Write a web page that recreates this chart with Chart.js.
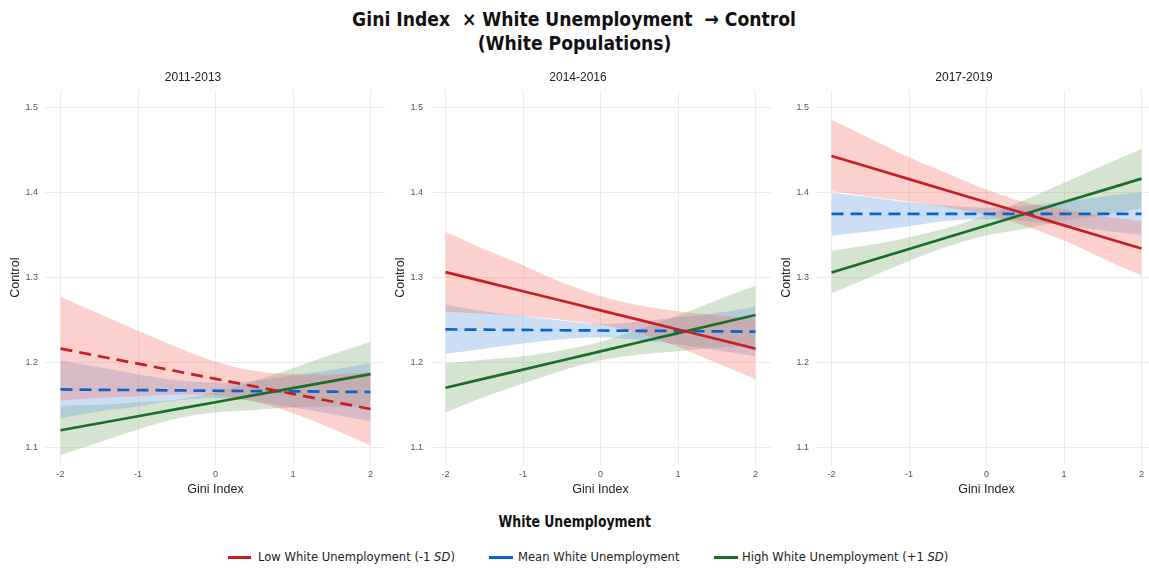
<!DOCTYPE html>
<html>
<head>
<meta charset="utf-8">
<script src="https://cdn.jsdelivr.net/npm/chart.js@4.4.1/dist/chart.umd.min.js"></script>
<style>
  html, body { margin: 0; padding: 0; background: #fff; overflow: hidden; }
  body { width: 1149px; height: 569px; position: relative; font-family: "DejaVu Sans", sans-serif; }
  .title {
    position: absolute; left: 0; top: 7px; width: 1149px; text-align: center;
    font-weight: bold; font-size: 20px; line-height: 24px; color: #111;
  }
  .title span { display: inline-block; transform: scaleX(0.86); }
  .panel { position: absolute; top: 60px; width: 386px; height: 445px; }
  .legend-title {
    position: absolute; left: 0; top: 512px; width: 1149px; text-align: center;
    font-weight: bold; font-size: 16px; color: #111;
  }
  .legend-title span { display: inline-block; transform: scaleX(0.78); }
  .swatch { position: absolute; top: 556px; height: 3px; }
  .label {
    position: absolute; top: 549px; font-size: 13px; color: #222; white-space: nowrap;
    transform: scaleX(0.89); transform-origin: left center;
  }
</style>
</head>
<body>
<div class="title"><span>Gini Index&nbsp; × White Unemployment&nbsp; → Control</span><br><span>(White Populations)</span></div>

<div class="panel" style="left:0px"><canvas id="p1"></canvas></div>
<div class="panel" style="left:385px"><canvas id="p2"></canvas></div>
<div class="panel" style="left:771px"><canvas id="p3"></canvas></div>

<div class="legend-title"><span>White Unemployment</span></div>
<div class="swatch" style="left:228px; width:23px; background:#c81e24"></div>
<div class="label" style="left:258px">Low White Unemployment (-1 <i>SD</i>)</div>
<div class="swatch" style="left:489px; width:24px; background:#0a64c8"></div>
<div class="label" style="left:518px">Mean White Unemployment</div>
<div class="swatch" style="left:714px; width:24px; background:#1a6e2a"></div>
<div class="label" style="left:742px">High White Unemployment (+1 <i>SD</i>)</div>

<script>
// Gini Index (standardised) at which predictions were evaluated
const gini = [-2, -1.5, -1, -0.5, 0, 0.5, 1, 1.5, 2];
const periods = ['2011-2013', '2014-2016', '2017-2019'];
const xTicks = [-2, -1, 0, 1, 2];
const yTicks = [1.1, 1.2, 1.3, 1.4, 1.5];

// 2011-2013
const low1 = [1.2160, 1.2071, 1.1983, 1.1894, 1.1805, 1.1716, 1.1628, 1.1539, 1.1450];
const low1Hi = [1.277, 1.257, 1.237, 1.218, 1.201, 1.190, 1.186, 1.186, 1.188];
const low1Lo = [1.155, 1.158, 1.160, 1.162, 1.161, 1.154, 1.140, 1.122, 1.102];
const mean1 = [1.1680, 1.1676, 1.1673, 1.1669, 1.1665, 1.1661, 1.1658, 1.1654, 1.1650];
const mean1Hi = [1.202, 1.194, 1.186, 1.179, 1.176, 1.178, 1.185, 1.191, 1.199];
const mean1Lo = [1.134, 1.142, 1.148, 1.155, 1.158, 1.154, 1.147, 1.139, 1.131];
const high1 = [1.1200, 1.1283, 1.1365, 1.1448, 1.1530, 1.1613, 1.1695, 1.1778, 1.1860];
const high1Hi = [1.149, 1.150, 1.153, 1.156, 1.165, 1.178, 1.193, 1.209, 1.224];
const high1Lo = [1.091, 1.106, 1.121, 1.134, 1.141, 1.144, 1.147, 1.148, 1.148];

// 2014-2016
const low2 = [1.3060, 1.2948, 1.2835, 1.2723, 1.2610, 1.2498, 1.2385, 1.2273, 1.2160];
const low2Hi = [1.353, 1.333, 1.314, 1.294, 1.278, 1.267, 1.260, 1.255, 1.252];
const low2Lo = [1.259, 1.257, 1.254, 1.250, 1.244, 1.234, 1.218, 1.199, 1.180];
const mean2 = [1.2386, 1.2383, 1.2380, 1.2376, 1.2373, 1.2370, 1.2367, 1.2363, 1.2360];
const mean2Hi = [1.268, 1.260, 1.254, 1.249, 1.245, 1.248, 1.253, 1.258, 1.265];
const mean2Lo = [1.210, 1.216, 1.222, 1.227, 1.229, 1.226, 1.221, 1.214, 1.207];
const high2 = [1.1700, 1.1807, 1.1914, 1.2021, 1.2128, 1.2235, 1.2342, 1.2449, 1.2556];
const high2Hi = [1.199, 1.203, 1.207, 1.214, 1.224, 1.239, 1.255, 1.273, 1.290];
const high2Lo = [1.141, 1.159, 1.175, 1.190, 1.202, 1.209, 1.213, 1.217, 1.220];

// 2017-2019
const low3 = [1.4425, 1.4289, 1.4153, 1.4017, 1.3881, 1.3745, 1.3609, 1.3473, 1.3337];
const low3Hi = [1.485, 1.463, 1.441, 1.422, 1.403, 1.388, 1.380, 1.372, 1.366];
const low3Lo = [1.401, 1.395, 1.389, 1.382, 1.373, 1.360, 1.343, 1.322, 1.302];
const mean3 = [1.3745, 1.3745, 1.3745, 1.3745, 1.3745, 1.3745, 1.3745, 1.3745, 1.3745];
const mean3Hi = [1.399, 1.394, 1.388, 1.384, 1.382, 1.384, 1.389, 1.395, 1.400];
const mean3Lo = [1.349, 1.354, 1.360, 1.366, 1.368, 1.366, 1.361, 1.355, 1.350];
const high3 = [1.3055, 1.3193, 1.3331, 1.3469, 1.3607, 1.3745, 1.3883, 1.4021, 1.4159];
const high3Hi = [1.331, 1.338, 1.347, 1.358, 1.373, 1.391, 1.411, 1.431, 1.451];
const high3Lo = [1.281, 1.300, 1.319, 1.336, 1.349, 1.357, 1.366, 1.373, 1.381];

const RED = '#c81e24', BLUE = '#0a64c8', GREEN = '#1a6e2a';
const RED_FILL = 'rgba(244, 110, 100, 0.32)';
const BLUE_FILL = 'rgba(110, 160, 225, 0.35)';
const GREEN_FILL = 'rgba(120, 170, 110, 0.32)';
const AXIS_FONT = 'Liberation Sans, Arial, sans-serif';

const pts = (ys) => ys.map((y, i) => ({ x: gini[i], y }));

function band(lo, hi, fill) {
  const base = { borderWidth: 0, pointRadius: 0, tension: 0.4, order: 2 };
  return [
    { ...base, data: pts(lo), fill: false },
    { ...base, data: pts(hi), fill: '-1', backgroundColor: fill }
  ];
}

function line(ys, color, dashed) {
  return {
    data: pts(ys), borderColor: color, borderWidth: 2.7, pointRadius: 0,
    borderDash: dashed ? [12, 7] : [], fill: false, order: 1, tension: 0
  };
}

function makePanel(id, title, s, lowDashed) {
  new Chart(document.getElementById(id), {
    type: 'line',
    data: {
      datasets: [
        ...band(s.lowLo, s.lowHi, RED_FILL),
        ...band(s.meanLo, s.meanHi, BLUE_FILL),
        ...band(s.highLo, s.highHi, GREEN_FILL),
        line(s.low, RED, lowDashed),
        line(s.high, GREEN, false),
        line(s.mean, BLUE, true)
      ]
    },
    options: {
      responsive: false,
      animation: false,
      maintainAspectRatio: false,
      layout: { padding: 0 },
      plugins: {
        legend: { display: false },
        tooltip: { enabled: false },
        title: {
          display: true, text: title, color: '#222',
          font: { family: AXIS_FONT, size: 12, weight: 'normal' },
          padding: { top: 10, bottom: 6 }
        }
      },
      scales: {
        x: {
          type: 'linear', min: -2.2, max: 2.2,
          afterBuildTicks: (scale) => { scale.ticks = xTicks.map(v => ({ value: v })); },
          afterFit: (scale) => { scale.height = 40; },
          border: { display: false },
          grid: { color: '#ebebeb', lineWidth: 1, drawTicks: false },
          ticks: { color: '#555', padding: 4, font: { family: AXIS_FONT, size: 9 } },
          title: {
            display: true, text: 'Gini Index', color: '#222',
            font: { family: AXIS_FONT, size: 12.5 },
            padding: { top: 0, bottom: 8 }
          }
        },
        y: {
          type: 'linear', min: 1.0792, max: 1.5196,
          afterBuildTicks: (scale) => { scale.ticks = yTicks.map(v => ({ value: v })); },
          afterFit: (scale) => { scale.width = 45; },
          border: { display: false },
          grid: { color: '#ebebeb', lineWidth: 1, drawTicks: false },
          ticks: {
            color: '#555', padding: 7,
            font: { family: AXIS_FONT, size: 9 },
            callback: (v) => v.toFixed(1)
          },
          title: {
            display: true, text: 'Control', color: '#222',
            font: { family: AXIS_FONT, size: 12.5 },
            padding: { top: 8, bottom: 0 }
          }
        }
      }
    }
  });
}

function sizeCanvas(id) {
  const c = document.getElementById(id);
  c.width = 386; c.height = 445;
  c.style.width = '386px'; c.style.height = '445px';
}
['p1', 'p2', 'p3'].forEach(sizeCanvas);

makePanel('p1', periods[0], {
  low: low1, lowHi: low1Hi, lowLo: low1Lo,
  mean: mean1, meanHi: mean1Hi, meanLo: mean1Lo,
  high: high1, highHi: high1Hi, highLo: high1Lo
}, true);
makePanel('p2', periods[1], {
  low: low2, lowHi: low2Hi, lowLo: low2Lo,
  mean: mean2, meanHi: mean2Hi, meanLo: mean2Lo,
  high: high2, highHi: high2Hi, highLo: high2Lo
}, false);
makePanel('p3', periods[2], {
  low: low3, lowHi: low3Hi, lowLo: low3Lo,
  mean: mean3, meanHi: mean3Hi, meanLo: mean3Lo,
  high: high3, highHi: high3Hi, highLo: high3Lo
}, false);
</script>
</body>
</html>
